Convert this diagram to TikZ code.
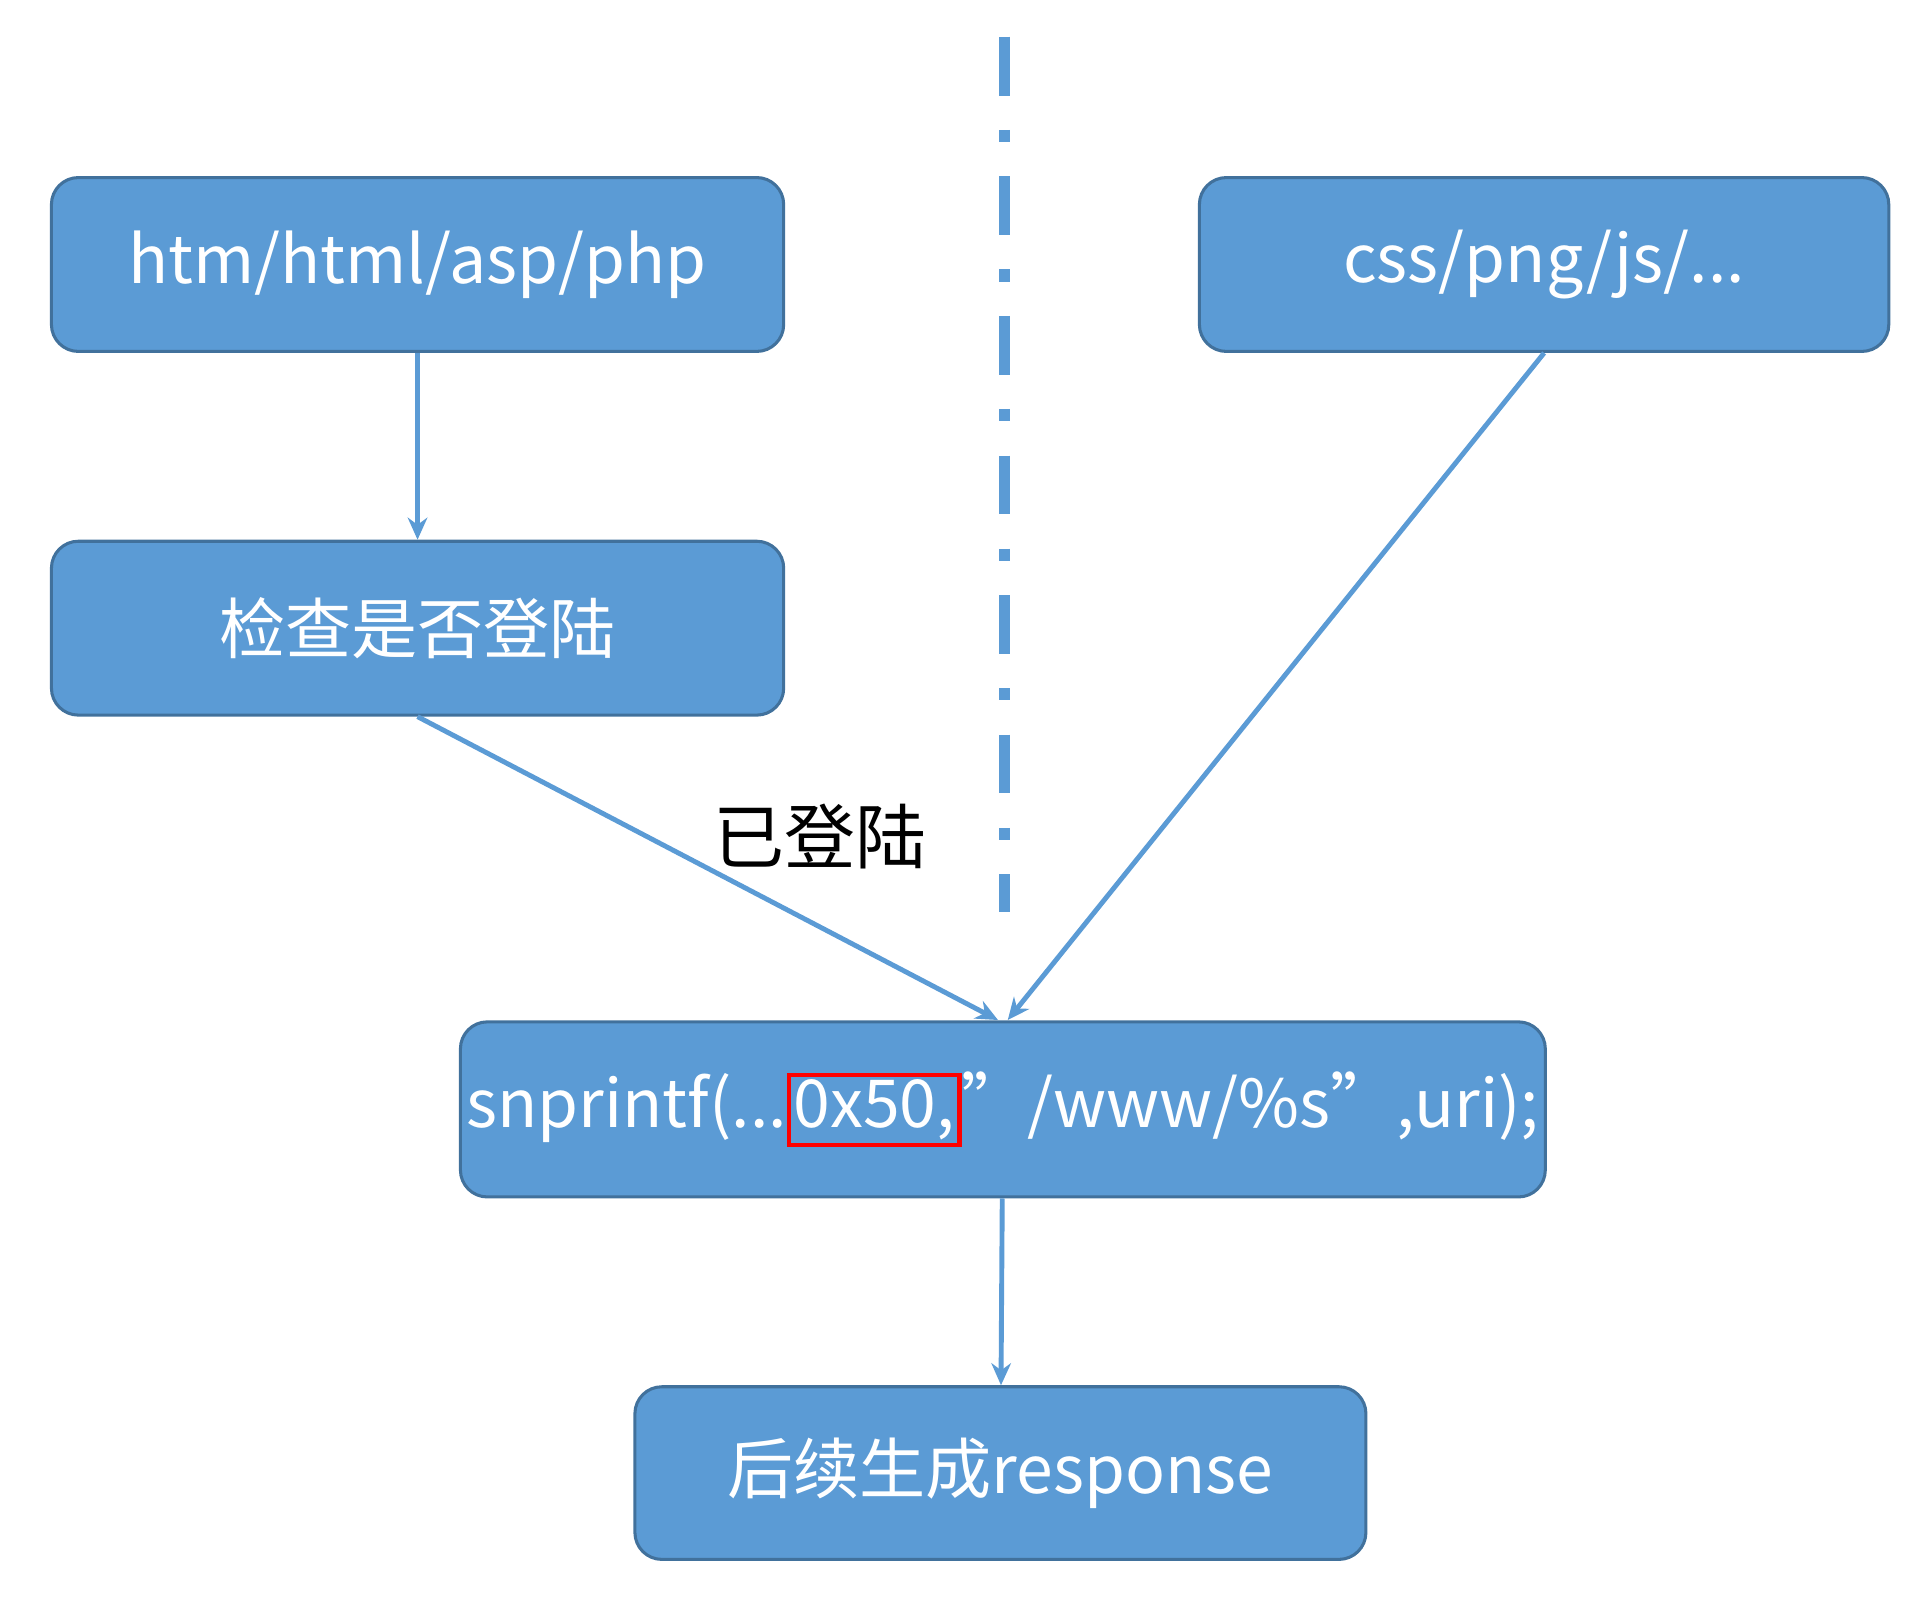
\documentclass[tikz,border=0pt]{standalone}
\usepackage{fontspec}
\setmainfont{Noto Sans CJK SC}
\usetikzlibrary{arrows.meta}
\definecolor{boxblue}{HTML}{5B9BD5}
\definecolor{boxedge}{HTML}{41719C}
\begin{document}
\begin{tikzpicture}[x=1pt,y=-1pt,
  box/.style={draw=boxedge,line width=2.5pt,fill=boxblue,rounded corners=22pt,text=white,font=\fontsize{54}{60}\selectfont,inner sep=0pt},
  arr/.style={draw=boxblue,line width=4pt,-{Stealth[length=18pt,width=16pt]}}]
\useasboundingbox (0,0) rectangle (1568,1307);
\node[box,minimum width=598pt,minimum height=142pt] (a) at (341,216) {htm/html/asp/php};
\node[box,minimum width=598pt,minimum height=142pt] (b) at (341,513) {检查是否登陆};
\node[box,minimum width=563pt,minimum height=142pt] (c) at (1261,216) {css/png/js/...};
\node[box,minimum width=886pt,minimum height=143pt] (d) at (819,906) {snprintf(...{\setlength\fboxsep{2pt}\setlength\fboxrule{3.5pt}\fcolorbox{red}{boxblue}{0x50,}}”/www/\%s”,uri);};
\node[box,minimum width=597pt,minimum height=141pt] (e) at (817,1203) {后续生成response};
\coordinate (top) at (820,30);
\coordinate (bot) at (820,745);
\draw[boxblue,line width=9pt,dash pattern=on 48pt off 28pt on 10pt off 28pt] (top) -- (bot);
\coordinate (d1) at (815,833);
\coordinate (d2) at (823,833);
\draw[arr] (a) -- (b);
\draw[arr] (b.south) -- (d1);
\draw[arr] (c.south) -- (d2);
\draw[arr] (d) -- (e);
\node[font=\fontsize{58}{64}\selectfont] (l) at (670,683) {已登陆};
\end{tikzpicture}
\end{document}
